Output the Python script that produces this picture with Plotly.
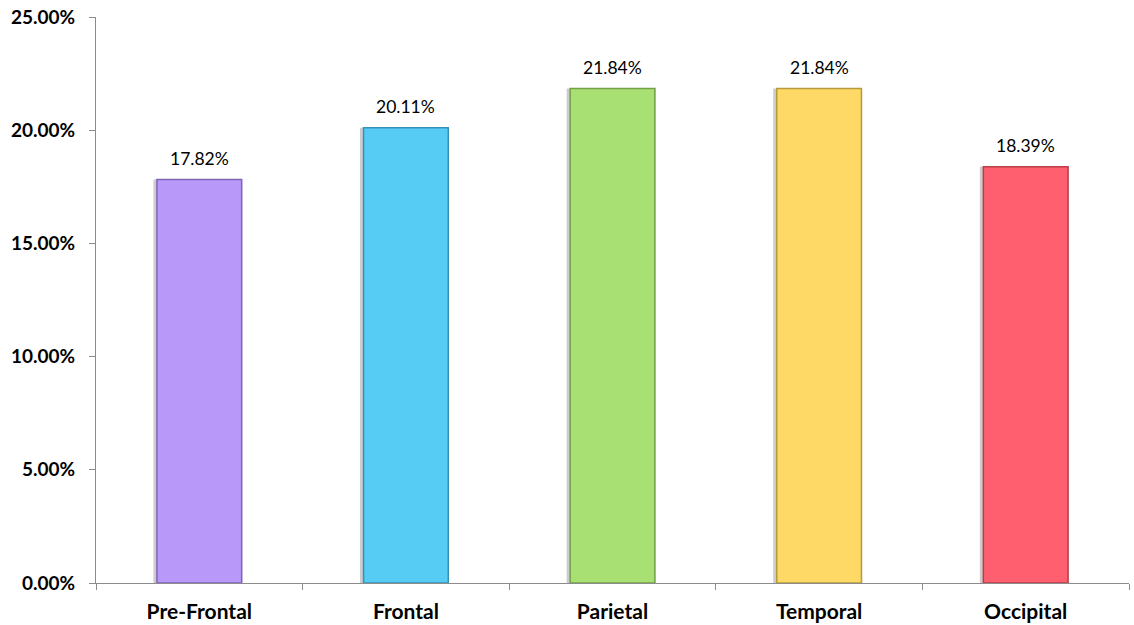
import plotly.graph_objects as go

categories = ["Pre-Frontal", "Frontal", "Parietal", "Temporal", "Occipital"]
values = [17.82, 20.11, 21.84, 21.84, 18.39]
colors = ["#B899FA", "#56CCF5", "#A9E073", "#FFD966", "#FF5F6F"]
line_colors = ["#7E63B8", "#3592B5", "#74A047", "#B79A3E", "#B83F4A"]
y_ticks = [0, 5, 10, 15, 20, 25]

FONT = "Lato, Open Sans, sans-serif"

fig = go.Figure()
# soft shadow behind the bars
fig.add_trace(go.Bar(
    x=categories, y=values,
    marker=dict(color="rgba(110,110,110,0.35)", line=dict(width=0)),
    width=0.43, offset=-0.222,
    hoverinfo="skip",
))
fig.add_trace(go.Bar(
    x=categories, y=values,
    marker=dict(color=colors, line=dict(color=line_colors, width=1.5)),
    width=0.41, offset=-0.205,
))
for c, v in zip(categories, values):
    fig.add_annotation(
        x=c, y=v, text=f"{v:.2f}%", showarrow=False,
        yanchor="bottom", yshift=9,
        font=dict(family=FONT, size=17.5, color="#000000"),
    )
fig.update_layout(
    width=1134, height=625,
    margin=dict(l=96, r=5, t=17, b=42),
    paper_bgcolor="white", plot_bgcolor="white",
    showlegend=False, barmode="overlay",
    font=dict(family=FONT, color="#000000"),
)
fig.update_yaxes(
    range=[0, 25], tickvals=y_ticks, ticktext=[f"{t:.2f}%" for t in y_ticks],
    showgrid=False, showline=True, linecolor="#8C8C8C", linewidth=1,
    ticks="outside", ticklen=6, tickcolor="#8C8C8C",
    tickfont=dict(size=19, family=FONT, weight="bold"),
    ticklabelstandoff=10, automargin=False,
    zeroline=False,
)
fig.update_xaxes(
    showgrid=False, showline=True, linecolor="#8C8C8C", linewidth=1,
    ticks="outside", ticklen=6, tickcolor="#8C8C8C", tickson="boundaries",
    tickfont=dict(size=21, family=FONT, weight="bold"),
    ticklabelstandoff=10, automargin=False,
)
fig.write_html("out.html", config={"displayModeBar": False},
               post_script="document.body.style.margin='0';")
